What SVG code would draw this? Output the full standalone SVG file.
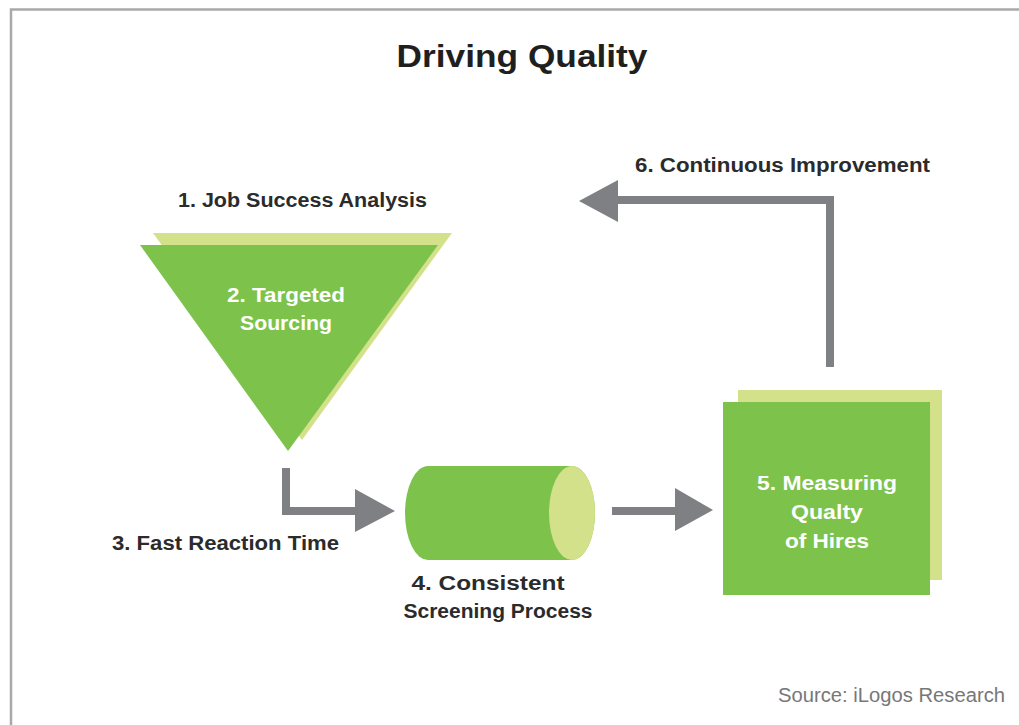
<svg xmlns="http://www.w3.org/2000/svg" width="1019" height="725" viewBox="0 0 1019 725">
  <style>
    .lbl { font-family: "Liberation Sans", Arial, sans-serif; font-weight: bold; font-size: 20px; fill: #2b2b2b; }
    .inner { font-family: "Liberation Sans", Arial, sans-serif; font-weight: bold; font-size: 20px; fill: #ffffff; text-anchor: middle; }
    .main { fill: #7dc24b; }
    .back { fill: #d3e28a; }
    .conn { fill: none; stroke: #7f8084; stroke-width: 8; }
    .head { fill: #7f8084; }
  </style>

  <rect x="0" y="0" width="1019" height="725" fill="#ffffff"/>
  <!-- frame -->
  <path d="M11,725 L11,9.5 L1019,9.5" fill="none" stroke="#a9a9a9" stroke-width="2.5"/>

  <text id="title" x="522" y="67" text-anchor="middle" font-family="'Liberation Sans', Arial, sans-serif" font-weight="bold" font-size="32" fill="#1f1f1f" textLength="251" lengthAdjust="spacingAndGlyphs">Driving Quality</text>

  <!-- node 1/2: funnel -->
  <g id="node-sourcing">
    <text class="lbl" x="178" y="207" textLength="249" lengthAdjust="spacingAndGlyphs">1. Job Success Analysis</text>
    <polygon class="back" points="153,233 452,233 302,440"/>
    <polygon class="main" points="140,245 438,245 288,451"/>
    <text class="inner" x="286" y="302" textLength="118" lengthAdjust="spacingAndGlyphs">2. Targeted</text>
    <text class="inner" x="286" y="330" textLength="92" lengthAdjust="spacingAndGlyphs">Sourcing</text>
  </g>

  <!-- node 4: cylinder -->
  <g id="node-screening">
    <path class="main" d="M428,466 L572,466 A23,47 0 0 1 572,560 L428,560 A23,47 0 0 1 428,466 Z"/>
    <ellipse class="back" cx="572" cy="513" rx="23" ry="47"/>
    <text class="lbl" x="488" y="590" text-anchor="middle" textLength="153" lengthAdjust="spacingAndGlyphs">4. Consistent</text>
    <text class="lbl" x="498" y="618" text-anchor="middle" textLength="189" lengthAdjust="spacingAndGlyphs">Screening Process</text>
  </g>

  <!-- node 5: stacked squares -->
  <g id="node-measuring">
    <rect class="back" x="738" y="390" width="204" height="190"/>
    <rect class="main" x="723" y="402" width="207" height="193"/>
    <text class="inner" x="827" y="490" textLength="140" lengthAdjust="spacingAndGlyphs">5. Measuring</text>
    <text class="inner" x="827" y="519" textLength="72" lengthAdjust="spacingAndGlyphs">Qualty</text>
    <text class="inner" x="827" y="548" textLength="84" lengthAdjust="spacingAndGlyphs">of Hires</text>
  </g>

  <!-- connectors -->
  <g id="connectors">
    <path class="conn" d="M286,468 L286,511 L356,511"/>
    <polygon class="head" points="355,489 395,511 355,532"/>
    <text class="lbl" x="112" y="550" textLength="227" lengthAdjust="spacingAndGlyphs">3. Fast Reaction Time</text>

    <path class="conn" d="M612,511 L676,511"/>
    <polygon class="head" points="675,488 713,510 675,531"/>

    <path class="conn" d="M830,367 L830,200 L617,200"/>
    <polygon class="head" points="618,180 579,201 618,222"/>
    <text class="lbl" x="635" y="172" textLength="295" lengthAdjust="spacingAndGlyphs">6. Continuous Improvement</text>
  </g>

  <text id="source" x="778" y="702" font-family="'Liberation Sans', Arial, sans-serif" font-size="20" fill="#777777" textLength="227" lengthAdjust="spacingAndGlyphs">Source: iLogos Research</text>
</svg>
